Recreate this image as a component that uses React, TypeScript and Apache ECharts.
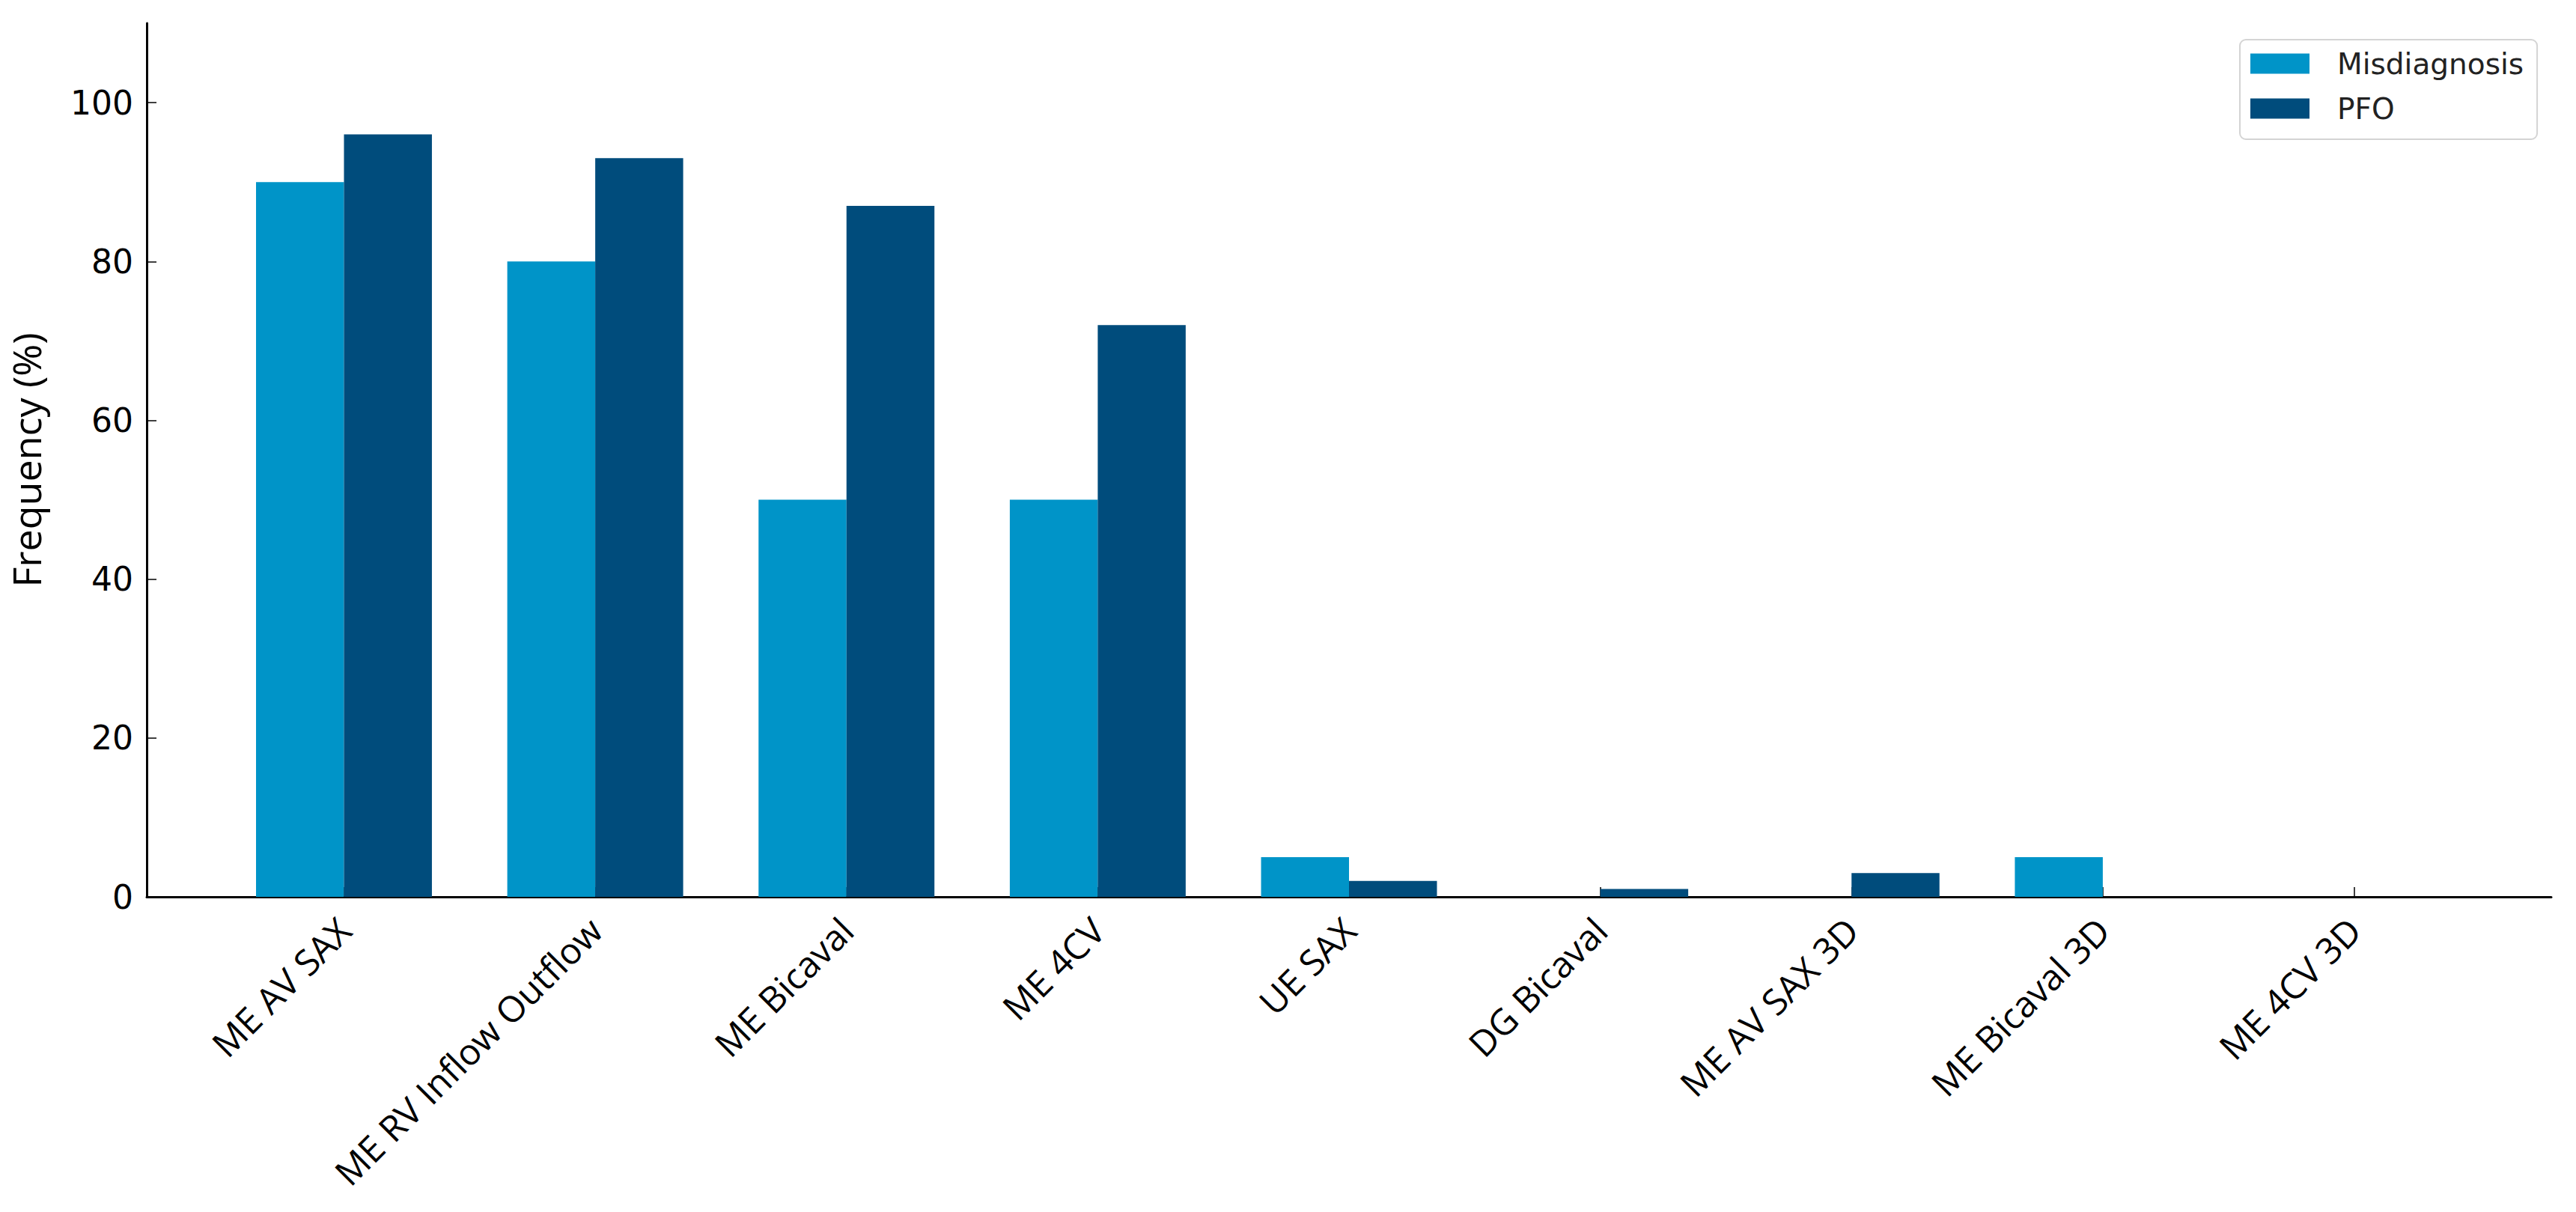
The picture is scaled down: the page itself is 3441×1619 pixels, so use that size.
import React, { useEffect, useRef } from 'react';
import * as echarts from 'echarts';

const categories = [
  'ME AV SAX',
  'ME RV Inflow Outflow',
  'ME Bicaval',
  'ME 4CV',
  'UE SAX',
  'DG Bicaval',
  'ME AV SAX 3D',
  'ME Bicaval 3D',
  'ME 4CV 3D',
];
const misdiagnosis = [90, 80, 50, 50, 5, 0, 0, 5, 0];
const pfo = [96, 93, 87, 72, 2, 1, 3, 0, 0];
const yTicks = [0, 20, 40, 60, 80, 100];

export default function App() {
  const ref = useRef<HTMLDivElement>(null);
  useEffect(() => {
    if (!ref.current) return;
    const chart = echarts.init(ref.current, null, { renderer: 'svg' });
    const idx = categories.map((_, i) => i);
    chart.setOption({
      animation: false,
      backgroundColor: '#ffffff',
      grid: { left: 196, top: 31, right: 33, bottom: 421, containLabel: false },
      legend: {
        data: ['Misdiagnosis', 'PFO'],
        orient: 'vertical',
        left: 2992,
        top: 53,
        padding: [12, 18, 21, 14],
        itemWidth: 79,
        itemHeight: 27,
        itemGap: 20,
        icon: 'rect',
        backgroundColor: '#ffffff',
        borderColor: '#d4d4d4',
        borderWidth: 2,
        borderRadius: 8,
        textStyle: {
          fontFamily: 'DejaVu Sans',
          fontSize: 39,
          color: '#222222',
          lineHeight: 40,
          padding: [0, 0, 0, 32],
        },
      },
      xAxis: {
        type: 'value',
        min: -0.785,
        max: 8.785,
        axisLine: { show: true, onZero: false, lineStyle: { color: '#000', width: 3 } },
        axisTick: {
          show: true,
          inside: true,
          length: 13,
          customValues: idx,
          lineStyle: { color: '#000', width: 1.5 },
        },
        axisLabel: {
          customValues: idx,
          formatter: (v: number) => categories[Math.round(v)] ?? '',
          rotate: 45,
          margin: 36,
          fontFamily: 'Open Sans',
          fontSize: 48,
          color: '#000',
        },
        splitLine: { show: false },
      },
      yAxis: {
        type: 'value',
        min: 0,
        max: 110,
        name: 'Frequency (%)',
        nameLocation: 'middle',
        nameRotate: 90,
        nameGap: 136,
        nameTextStyle: { fontFamily: 'Open Sans', fontSize: 52, color: '#000' },
        axisLine: { show: true, onZero: false, lineStyle: { color: '#000', width: 3 } },
        axisTick: {
          show: true,
          inside: true,
          length: 13,
          customValues: yTicks,
          lineStyle: { color: '#000', width: 1.5 },
        },
        axisLabel: {
          customValues: yTicks,
          margin: 18,
          fontFamily: 'DejaVu Sans',
          fontSize: 44,
          color: '#000',
        },
        splitLine: { show: false },
      },
      series: [
        {
          name: 'Misdiagnosis',
          type: 'bar',
          data: misdiagnosis.map((v, i) => [i, v]),
          barWidth: '35%',
          barGap: '0%',
          itemStyle: { color: '#0094c8' },
        },
        {
          name: 'PFO',
          type: 'bar',
          data: pfo.map((v, i) => [i, v]),
          barWidth: '35%',
          barGap: '0%',
          itemStyle: { color: '#004c7c' },
        },
      ],
    });
    return () => chart.dispose();
  }, []);
  return (
    <div
      ref={ref}
      style={{ position: 'absolute', left: 0, top: 0, width: 3441, height: 1619 }}
    />
  );
}
